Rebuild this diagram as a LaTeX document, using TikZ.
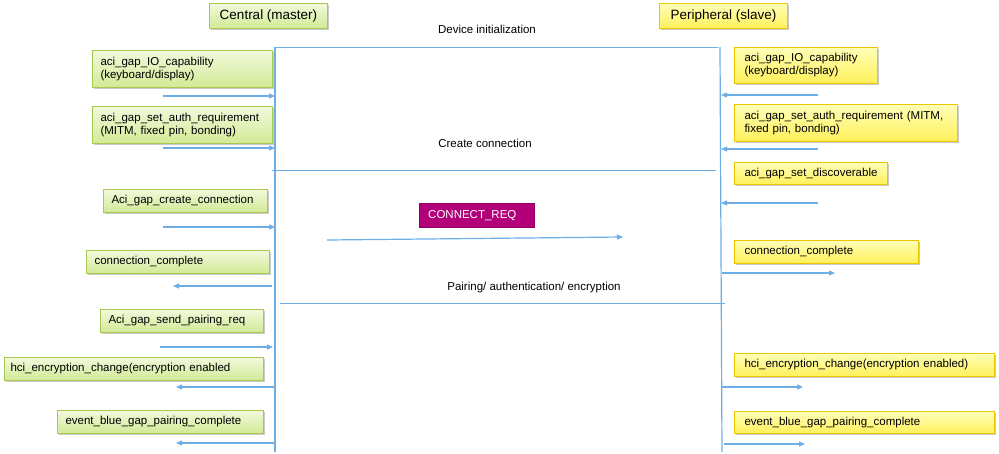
\documentclass[tikz,border=0pt]{standalone}
\usepackage{fontspec}
\setmainfont{Liberation Sans}
\usetikzlibrary{arrows.meta,shadows}
\definecolor{lblue}{HTML}{6DAEE6}
\definecolor{gborder}{HTML}{A6C94E}
\definecolor{gtop}{HTML}{F2F9DC}
\definecolor{gbot}{HTML}{D2EA95}
\definecolor{yborder}{HTML}{EEC600}
\definecolor{ytop}{HTML}{FFFFB8}
\definecolor{ybot}{HTML}{FFF05A}
\definecolor{magbox}{HTML}{B3007A}
\definecolor{magborder}{HTML}{8C0060}
\begin{document}
\begin{tikzpicture}[x=1pt,y=-1pt,
  every node/.style={font=\fontsize{11.5}{13}\selectfont},
  boxbase/.style={anchor=north west, inner xsep=8pt, inner ysep=2pt, align=left,
    drop shadow={shadow xshift=1.6pt, shadow yshift=-1.6pt, fill=black!45, opacity=0.45}},
  gbox/.style={boxbase, draw=gborder, line width=1pt, top color=gtop, bottom color=gbot},
  ybox/.style={boxbase, draw=yborder, line width=1pt, top color=ytop, bottom color=ybot},
  lifeline/.style={draw=lblue, line width=1.2pt},
  sepline/.style={draw=lblue, line width=1pt},
  msg/.style={draw=lblue, line width=1.2pt, -{Triangle[length=6pt,width=5pt]}},
  lbl/.style={inner sep=0pt, anchor=base}
]
\useasboundingbox (0,0) rectangle (999,453);

% headers
\node[gbox, inner xsep=0pt, minimum width=118pt, minimum height=25pt, font=\fontsize{13.5}{15}\selectfont, align=center] (hc) at (209,3) {Central (master)};
\node[ybox, inner xsep=0pt, minimum width=128pt, minimum height=25pt, font=\fontsize{13.5}{15}\selectfont, align=center] (hp) at (659,3) {Peripheral (slave)};

% lifelines
\coordinate (cTop) at (275,47);
\coordinate (cBot) at (275,452);
\coordinate (pTop) at (720,47);
\coordinate (pBot) at (722,452);
\draw[lifeline] (cTop) -- (cBot);
\draw[lifeline] (pTop) -- (pBot);

% section separators
\coordinate (d1) at (275,47);  \coordinate (d2) at (718,47);
\coordinate (c1) at (272,170); \coordinate (c2) at (716,170);
\coordinate (p1) at (280,303); \coordinate (p2) at (725,303);
\draw[sepline] (d1) -- (d2);
\draw[sepline] (c1) -- (c2);
\draw[sepline] (p1) -- (p2);
\node[lbl] (tdev) at (487,33) {Device initialization};
\node[lbl] (tcon) at (485,147) {Create connection};
\node[lbl] (tpair) at (534,290) {Pairing/ authentication/ encryption};

% left (central) boxes
\node[gbox, text width=164pt, minimum height=37pt] (l1) at (92,50) {aci\_gap\_IO\_capability\\(keyboard/display)};
\node[gbox, text width=164pt, minimum height=37pt] (l2) at (92,106) {aci\_gap\_set\_auth\_requirement\\(MITM, fixed pin, bonding)};
\node[gbox, text width=148pt, minimum height=23pt] (l3) at (103,189) {Aci\_gap\_create\_connection};
\node[gbox, text width=167pt, minimum height=23pt] (l4) at (86,250) {connection\_complete};
\node[gbox, text width=147pt, minimum height=23pt] (l5) at (100,309) {Aci\_gap\_send\_pairing\_req};
\node[gbox, inner xsep=6pt, text width=247pt, minimum height=23pt] (l6) at (4,357) {hci\_encryption\_change(encryption enabled};
\node[gbox, text width=190pt, minimum height=23pt] (l7) at (57,410) {event\_blue\_gap\_pairing\_complete};

% left arrows
\coordinate (la1s) at (163,96);  \coordinate (la1e) at (275,96);
\coordinate (la2s) at (163,148); \coordinate (la2e) at (275,148);
\coordinate (la3s) at (163,227); \coordinate (la3e) at (275,227);
\coordinate (la4s) at (272,286); \coordinate (la4e) at (173,286);
\coordinate (la5s) at (160,347); \coordinate (la5e) at (273,347);
\coordinate (la6s) at (275,387); \coordinate (la6e) at (176,387);
\coordinate (la7s) at (275,443); \coordinate (la7e) at (176,443);
\draw[msg] (la1s) -- (la1e);
\draw[msg] (la2s) -- (la2e);
\draw[msg] (la3s) -- (la3e);
\draw[msg] (la4s) -- (la4e);
\draw[msg] (la5s) -- (la5e);
\draw[msg] (la6s) -- (la6e);
\draw[msg] (la7s) -- (la7e);

% right (peripheral) boxes
\node[ybox, inner xsep=10pt, text width=123pt, minimum height=36pt] (r1) at (734,47) {aci\_gap\_IO\_capability\\(keyboard/display)};
\node[ybox, inner xsep=10pt, text width=203pt, minimum height=37pt] (r2) at (734,104) {aci\_gap\_set\_auth\_requirement (MITM,\\fixed pin, bonding)};
\node[ybox, inner xsep=10pt, text width=133pt, minimum height=22pt] (r3) at (734,162) {aci\_gap\_set\_discoverable};
\node[ybox, inner xsep=10pt, text width=164pt, minimum height=23pt] (r4) at (734,240) {connection\_complete};
\node[ybox, inner xsep=10pt, text width=240pt, minimum height=23pt] (r5) at (734,353) {hci\_encryption\_change(encryption enabled)};
\node[ybox, inner xsep=10pt, text width=240pt, minimum height=22pt] (r6) at (734,411) {event\_blue\_gap\_pairing\_complete};

% right arrows
\coordinate (ra1s) at (818,95);  \coordinate (ra1e) at (721,95);
\coordinate (ra2s) at (818,149); \coordinate (ra2e) at (721,149);
\coordinate (ra3s) at (818,203); \coordinate (ra3e) at (721,203);
\coordinate (ra4s) at (722,273); \coordinate (ra4e) at (835,273);
\coordinate (ra5s) at (722,387); \coordinate (ra5e) at (803,387);
\coordinate (ra6s) at (724,444); \coordinate (ra6e) at (805,444);
\draw[msg] (ra1s) -- (ra1e);
\draw[msg] (ra2s) -- (ra2e);
\draw[msg] (ra3s) -- (ra3e);
\draw[msg] (ra4s) -- (ra4e);
\draw[msg] (ra5s) -- (ra5e);
\draw[msg] (ra6s) -- (ra6e);

% CONNECT_REQ
\node[anchor=north west, draw=magborder, fill=magbox, text=white, inner xsep=9pt, inner ysep=2pt,
  text width=97pt, minimum height=24pt, align=left] (creq) at (419,203) {CONNECT\_REQ};
\coordinate (cr1) at (327,240);
\coordinate (cr2) at (623,237);
\draw[msg] (cr1) -- (cr2);
\end{tikzpicture}
\end{document}
